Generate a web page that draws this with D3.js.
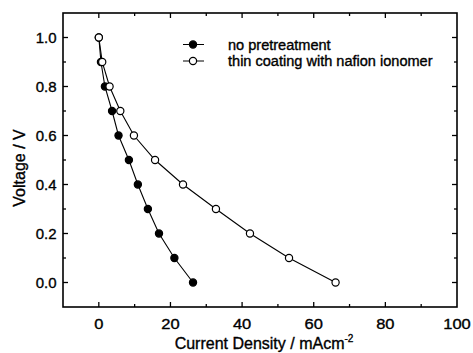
<!DOCTYPE html>
<html>
<head>
<meta charset="utf-8">
<script src="https://cdn.jsdelivr.net/npm/d3@7"></script>
<style>
  body { margin: 0; background: #fff; }
  svg text { font-family: "Liberation Sans", Arial, sans-serif; fill: #000; stroke: #000; stroke-width: 0.35; }
</style>
</head>
<body>
<svg id="chart" width="473" height="353"></svg>
<script>
// voltage steps (V)
const voltage = [1.0, 0.9, 0.8, 0.7, 0.6, 0.5, 0.4, 0.3, 0.2, 0.1, 0.0];
// current density (mA/cm2)
const noPretreatment = [0, 0.6, 1.7, 3.7, 5.5, 8.4, 10.9, 13.7, 16.8, 21.1, 26.3];
const nafionCoating = [0, 0.95, 3.0, 6.0, 9.8, 15.7, 23.5, 32.7, 42.2, 53.1, 66.1];
const seriesNames = ['no pretreatment', 'thin coating with nafion ionomer'];
const xTicks = [0, 20, 40, 60, 80, 100];
const yTicks = [0.0, 0.2, 0.4, 0.6, 0.8, 1.0];

const svg = d3.select('#chart');
const pLeft = 63, pRight = 457, pTop = 13, pBottom = 307;

const x = d3.scaleLinear().domain([-10, 100]).range([pLeft, pRight]);
const y = d3.scaleLinear().domain([-0.1, 1.1]).range([pBottom, pTop]);

// frame
svg.append('rect')
  .attr('x', pLeft).attr('y', pTop)
  .attr('width', pRight - pLeft).attr('height', pBottom - pTop)
  .attr('fill', 'none').attr('stroke', '#000').attr('stroke-width', 1.6);

const xMinor = [10, 30, 50, 70, 90];
const yMinor = [0.1, 0.3, 0.5, 0.7, 0.9];

// ticks, pointing inward on all four sides
function xt(vals, len) {
  vals.forEach(v => {
    if (v > -10 && v < 100) {
      svg.append('line').attr('x1', x(v)).attr('x2', x(v)).attr('y1', pBottom).attr('y2', pBottom - len).attr('stroke', '#000').attr('stroke-width', 1.3);
      svg.append('line').attr('x1', x(v)).attr('x2', x(v)).attr('y1', pTop).attr('y2', pTop + len).attr('stroke', '#000').attr('stroke-width', 1.3);
    }
  });
}
xt(xTicks, 5);
xt(xMinor, 3);
function yt(vals, len) {
  vals.forEach(v => {
    svg.append('line').attr('y1', y(v)).attr('y2', y(v)).attr('x1', pLeft).attr('x2', pLeft + len).attr('stroke', '#000').attr('stroke-width', 1.3);
    svg.append('line').attr('y1', y(v)).attr('y2', y(v)).attr('x1', pRight).attr('x2', pRight - len).attr('stroke', '#000').attr('stroke-width', 1.3);
  });
}
yt(yTicks, 5);
yt(yMinor, 3);

// tick labels
svg.selectAll('.xl').data(xTicks).enter().append('text')
  .attr('transform', d => 'translate(' + x(d) + ',' + (pBottom + 22) + ') scale(1.1,1)')
  .attr('text-anchor', 'middle').attr('font-size', 15)
  .text(d => d);
svg.selectAll('.yl').data(yTicks).enter().append('text')
  .attr('x', pLeft - 6.5).attr('y', d => y(d) + 5.5)
  .attr('text-anchor', 'end').attr('font-size', 15)
  .text(d => d.toFixed(1));

// axis titles
const xTitle = svg.append('text')
  .attr('x', 264).attr('y', 349)
  .attr('text-anchor', 'middle').attr('font-size', 16)
  .text('Current Density / mAcm');
xTitle.append('tspan').attr('dy', -7).attr('font-size', 10).text('-2');

svg.append('text')
  .attr('transform', 'translate(25,168) rotate(-90)')
  .attr('text-anchor', 'middle').attr('font-size', 16)
  .text('Voltage / V');

const line = d3.line().x(d => x(d[0])).y(d => y(d[1]));
const series = [
  {pts: d3.zip(noPretreatment, voltage), fill: '#000'},
  {pts: d3.zip(nafionCoating, voltage), fill: '#fff'}
];

series.forEach(s => {
  svg.append('path').datum(s.pts)
    .attr('d', line).attr('fill', 'none').attr('stroke', '#000').attr('stroke-width', 1.1);
});
series.forEach(s => {
  svg.selectAll(null).data(s.pts).enter().append('circle')
    .attr('cx', d => x(d[0])).attr('cy', d => y(d[1])).attr('r', 3.6)
    .attr('fill', s.fill).attr('stroke', '#000').attr('stroke-width', 1.2);
});

// legend
seriesNames.forEach((name, i) => {
  const ly = 44.5 + i * 16.5;
  svg.append('line').attr('x1', 183).attr('x2', 204).attr('y1', ly).attr('y2', ly).attr('stroke', '#000');
  svg.append('circle').attr('cx', 193).attr('cy', ly).attr('r', 3.6)
    .attr('fill', series[i].fill).attr('stroke', '#000').attr('stroke-width', 1.2);
  svg.append('text').attr('transform', 'translate(228,' + (ly + 5) + ') scale(1.04,1)')
    .attr('font-size', 14).text(name);
});
</script>
</body>
</html>
